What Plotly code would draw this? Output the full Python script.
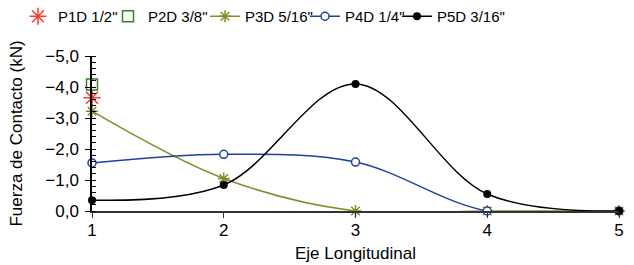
import plotly.graph_objects as go

x_pos = [1, 2, 3, 4, 5]
p1d_x = [1]
p1d_y = [-3.65]
p2d_x = [1]
p2d_y = [-4.08]
p3d_y = [-3.22, -1.05, 0.0, 0.0, 0.0]
p4d_y = [-1.55, -1.83, -1.58, 0.0, 0.0]
p5d_y = [-0.35, -0.84, -4.10, -0.55, 0.0]
y_ticks = [0, -1, -2, -3, -4, -5]

FONT = "Liberation Sans, Arial, sans-serif"
W, H = 634, 265

fig = go.Figure()
fig.add_trace(go.Scatter(
    x=p1d_x, y=p1d_y, mode="markers", name='P1D 1/2"', legend="legend",
    marker=dict(symbol="asterisk-open", size=14, color="#FF3B2B",
                line=dict(width=1.5, color="#FF3B2B")),
    cliponaxis=False))
fig.add_trace(go.Scatter(
    x=p2d_x, y=p2d_y, mode="markers", name='P2D 3/8"', legend="legend2",
    marker=dict(symbol="square-open", size=11, color="#3C7C2C",
                line=dict(width=1.5, color="#3C7C2C")),
    cliponaxis=False))
fig.add_trace(go.Scatter(
    x=x_pos, y=p3d_y, mode="lines+markers", name='P3D 5/16"', legend="legend3",
    line=dict(color="#8A8A2A", width=1.5, shape="spline", smoothing=1),
    marker=dict(symbol="asterisk-open", size=10, color="#8A8A2A",
                line=dict(width=1.5, color="#8A8A2A")),
    cliponaxis=False))
fig.add_trace(go.Scatter(
    x=x_pos, y=p4d_y, mode="lines+markers", name='P4D 1/4"', legend="legend4",
    line=dict(color="#1F40A0", width=1.5, shape="spline", smoothing=1),
    marker=dict(symbol="circle", size=8, color="white",
                line=dict(width=1.5, color="#1F40A0")),
    cliponaxis=False))
fig.add_trace(go.Scatter(
    x=x_pos, y=p5d_y, mode="lines+markers", name='P5D 3/16"', legend="legend5",
    line=dict(color="#000000", width=1.5, shape="spline", smoothing=1),
    marker=dict(symbol="circle", size=8, color="#000000"),
    cliponaxis=False))


def leg(center_px):
    return dict(orientation="h", xref="container", yref="container",
                x=(center_px - 19) / W, xanchor="left",
                y=1.0, yanchor="top",
                font=dict(size=15, family=FONT), itemwidth=30,
                bgcolor="rgba(0,0,0,0)")


fig.update_layout(
    width=W, height=H,
    margin=dict(l=92, r=15, t=56, b=54, autoexpand=False),
    paper_bgcolor="white", plot_bgcolor="white",
    separators=",.",
    font=dict(family=FONT, size=16, color="#000000"),
    legend=leg(37), legend2=leg(127), legend3=leg(224),
    legend4=leg(324), legend5=leg(416),
    showlegend=True,
)
fig.update_xaxes(
    range=[1, 5], dtick=1, tick0=1, showgrid=False, zeroline=False,
    showline=True, linecolor="#333333", linewidth=1.5,
    ticks="outside", ticklen=5, tickcolor="#333333", tickwidth=1.2,
    ticklabelstandoff=-2,
    tickfont=dict(size=17), automargin=False,
    title=dict(text="Eje Longitudinal", font=dict(size=17), standoff=8),
)
fig.update_yaxes(
    range=[0, -5], tickvals=y_ticks, tickformat=".1f",
    showgrid=False, zeroline=False,
    showline=True, linecolor="#000000", linewidth=1.5,
    ticks="outside", ticklen=5, tickcolor="#000000", tickwidth=1.2,
    ticklabelstandoff=3,
    minor=dict(ticks="inside", dtick=0.2, ticklen=4, tickcolor="#000000",
               tickwidth=1, showgrid=False),
    tickfont=dict(size=17), automargin=False,
    title=dict(text="Fuerza de Contacto (kN)", font=dict(size=17), standoff=18),
)

fig.write_html("out.html", config={"displayModeBar": False},
               post_script="document.body.style.margin='0';")
